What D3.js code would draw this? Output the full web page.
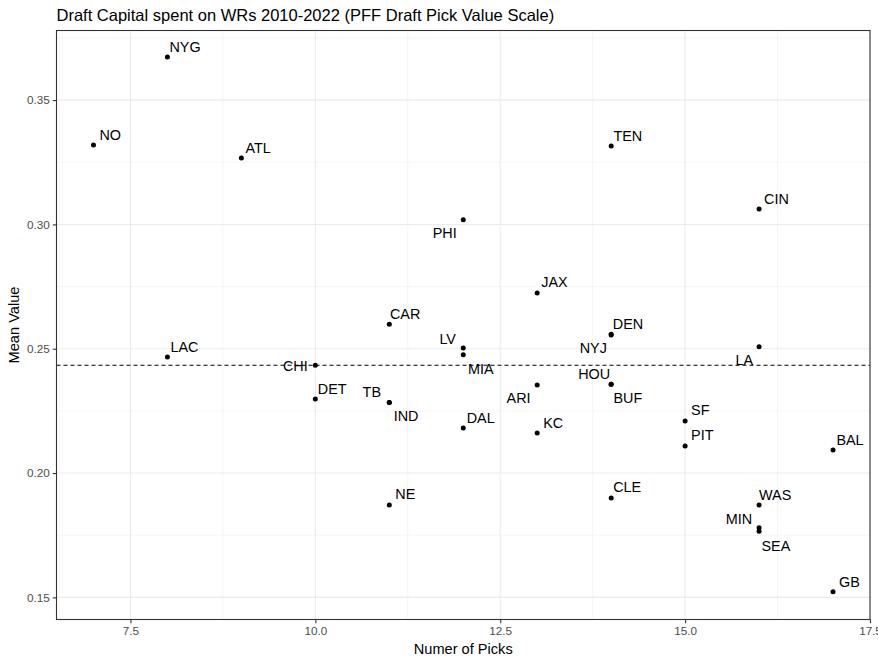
<!DOCTYPE html>
<html>
<head>
<meta charset="utf-8">
<script src="https://cdn.jsdelivr.net/npm/d3@7"></script>
<style>
  body { margin: 0; background: #fff; }
  svg { display: block; font-family: "Liberation Sans", Arial, sans-serif; }
</style>
</head>
<body>
<svg id="chart" width="878" height="664"></svg>
<script>
const teams = ["NYG","NO","ATL","TEN","CIN","PHI","JAX","CAR","DEN","NYJ","LA","LV","MIA","LAC","CHI","HOU","BUF","ARI","DET","TB","IND","SF","DAL","KC","PIT","BAL","CLE","WAS","NE","MIN","SEA","GB"];
const picks = [8,7,9,14,16,12,13,11,14,14,16,12,12,8,10,14,14,13,10,11,11,15,12,13,15,17,14,16,11,16,16,17];
const meanValues = [0.3673,0.3319,0.3267,0.3315,0.3062,0.3019,0.2724,0.2599,0.2558,0.2555,0.2508,0.2503,0.2476,0.2467,0.2434,0.2357,0.2357,0.2354,0.2298,0.2284,0.2284,0.2209,0.2181,0.2161,0.2109,0.2093,0.1900,0.1872,0.1872,0.1780,0.1766,0.1523];
const xTicks = [7.5,10.0,12.5,15.0,17.5];
const yTicks = [0.15,0.20,0.25,0.30,0.35];
const xMinor = [8.75,11.25,13.75,16.25];
const yMinor = [0.175,0.225,0.275,0.325,0.375];

// label placement (repel-like nudges, in px): [anchor, dx, dy]
const labelNudge = {
  NYG:["start",2,-5], NO:["start",6,-5.3], ATL:["start",4,-5.3], TEN:["start",2.3,-5.6],
  CIN:["start",5,-5.3], PHI:["end",-6.6,18.7], JAX:["start",4,-5.6], CAR:["start",0.6,-5.3],
  DEN:["start",1.7,-5.4], NYJ:["end",-4.3,18.3], LA:["end",-6,18], LV:["end",-7.3,-4],
  MIA:["start",4.7,19], LAC:["start",3,-5.3], CHI:["end",-7.6,6], HOU:["end",-1,-5.3],
  BUF:["start",2.3,19.2], ARI:["end",-6.6,18.4], DET:["start",2.4,-5.3], TB:["end",-8.3,-5.4],
  IND:["start",4.4,18.6], SF:["start",6,-5.6], DAL:["start",3.4,-5.3], KC:["start",6,-5.3],
  PIT:["start",6,-5.6], BAL:["start",3.4,-5.3], CLE:["start",2,-6.3], WAS:["start",0,-5.3],
  NE:["start",6,-5.6], MIN:["end",-7,-3.7], SEA:["start",2.4,20.2], GB:["start",6,-5]
};

const data = teams.map((t,i)=>({team:t, x:picks[i], y:meanValues[i]}));
const svg = d3.select("#chart");
const L = 56.5, R = 870, T = 30.5, B = 619.5;

const x = d3.scaleLinear().domain([6.5,17.5]).range([L,R]);
const y = d3.scaleLinear().domain([0.1411,0.3780]).range([B,T]);

svg.append("rect").attr("x",L).attr("y",T).attr("width",R-L).attr("height",B-T).attr("fill","#fff");

const grid = svg.append("g");
grid.selectAll(".xmn").data(xMinor).join("line")
  .attr("x1",d=>x(d)).attr("x2",d=>x(d)).attr("y1",T).attr("y2",B)
  .attr("stroke","#ebebeb").attr("stroke-width",0.55);
grid.selectAll(".ymn").data(yMinor).join("line")
  .attr("y1",d=>y(d)).attr("y2",d=>y(d)).attr("x1",L).attr("x2",R)
  .attr("stroke","#ebebeb").attr("stroke-width",0.55);
grid.selectAll(".xmj").data(xTicks).join("line")
  .attr("x1",d=>x(d)).attr("x2",d=>x(d)).attr("y1",T).attr("y2",B)
  .attr("stroke","#ebebeb").attr("stroke-width",1.1);
grid.selectAll(".ymj").data(yTicks).join("line")
  .attr("y1",d=>y(d)).attr("y2",d=>y(d)).attr("x1",L).attr("x2",R)
  .attr("stroke","#ebebeb").attr("stroke-width",1.1);

const meanVal = d3.mean(meanValues);
svg.append("line").attr("x1",L).attr("x2",R).attr("y1",y(meanVal)).attr("y2",y(meanVal))
  .attr("stroke","#000").attr("stroke-width",1.1).attr("stroke-dasharray","4,3");

svg.append("g").selectAll("circle").data(data).join("circle")
  .attr("cx",d=>x(d.x)).attr("cy",d=>y(d.y)).attr("r",2.5).attr("fill","#000");

svg.append("g").selectAll("text").data(data).join("text")
  .attr("x",d=>x(d.x)+labelNudge[d.team][1])
  .attr("y",d=>y(d.y)+labelNudge[d.team][2])
  .attr("text-anchor",d=>labelNudge[d.team][0])
  .attr("font-size","14.4px").attr("fill","#000")
  .text(d=>d.team);

svg.append("rect").attr("x",L).attr("y",T).attr("width",R-L).attr("height",B-T)
  .attr("fill","none").attr("stroke","#333333").attr("stroke-width",1.1);

const xAxis = d3.axisBottom(x).tickValues(xTicks).tickFormat(d3.format(".1f")).tickSizeOuter(0).tickSize(3.7).tickPadding(3);
const gx = svg.append("g").attr("transform",`translate(0,${B})`).call(xAxis);
const yAxis = d3.axisLeft(y).tickValues(yTicks).tickFormat(d3.format(".2f")).tickSizeOuter(0).tickSize(3.7).tickPadding(3);
const gy = svg.append("g").attr("transform",`translate(${L},0)`).call(yAxis);
[gx,gy].forEach(g=>{
  g.select(".domain").remove();
  g.selectAll(".tick line").attr("stroke","#333333").attr("stroke-width",1.1);
  g.selectAll(".tick text").attr("fill","#4d4d4d").attr("font-size","11.7px")
    .attr("font-family","'Liberation Sans', Arial, sans-serif");
});

svg.append("text").attr("x",L).attr("y",21).attr("font-size","16.5px").attr("fill","#000")
  .text("Draft Capital spent on WRs 2010-2022 (PFF Draft Pick Value Scale)");
svg.append("text").attr("x",(L+R)/2).attr("y",654).attr("text-anchor","middle")
  .attr("font-size","14.6px").attr("fill","#000").text("Numer of Picks");
svg.append("text").attr("transform",`translate(19,${(T+B)/2}) rotate(-90)`).attr("text-anchor","middle")
  .attr("font-size","14.6px").attr("fill","#000").text("Mean Value");
</script>
</body>
</html>
